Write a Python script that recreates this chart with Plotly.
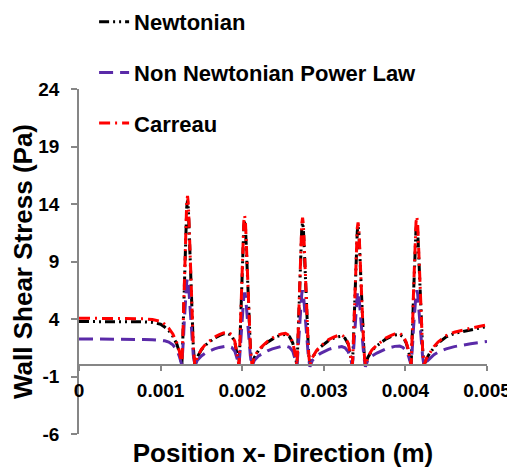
import plotly.graph_objects as go

# ---- data ----
position_m = [
    0, 0.0002, 0.0004, 0.0006, 0.0008, 0.0009, 0.001, 0.00105, 0.0011, 0.00115, 0.0012, 0.00123, 0.00126,
    0.00127, 0.00128, 0.00129, 0.0013, 0.00131, 0.00132, 0.00133, 0.00134, 0.00135, 0.00136, 0.00137, 0.00138, 0.00139, 0.0014, 0.00141, 0.00142,
    0.00145, 0.0015, 0.00155, 0.00161, 0.00166, 0.00172, 0.00177, 0.00182, 0.00187, 0.00191, 0.00193, 0.00196,
    0.00197, 0.00198, 0.00199, 0.002, 0.00201, 0.00202, 0.00203, 0.00204, 0.00205, 0.00206, 0.00207, 0.00208, 0.00209, 0.0021, 0.00211, 0.00212,
    0.00215, 0.0022, 0.00226, 0.00231, 0.00237, 0.00242, 0.00248, 0.00253, 0.00258, 0.00262, 0.00264, 0.00267,
    0.00268, 0.00269, 0.0027, 0.00271, 0.00272, 0.00273, 0.00274, 0.00275, 0.00276, 0.00277, 0.00278, 0.00279, 0.0028, 0.00281, 0.00282, 0.00283,
    0.00286, 0.00291, 0.00296, 0.00301, 0.00306, 0.00312, 0.00317, 0.00322, 0.00326, 0.0033, 0.00332, 0.00335,
    0.00336, 0.00337, 0.00338, 0.00339, 0.0034, 0.00341, 0.00342, 0.00343, 0.00344, 0.00345, 0.00346, 0.00347, 0.00348, 0.00349, 0.0035, 0.00351,
    0.00354, 0.00359, 0.00365, 0.00371, 0.00376, 0.00382, 0.00387, 0.00393, 0.00397, 0.00401, 0.00404, 0.00407,
    0.00408, 0.00409, 0.0041, 0.00411, 0.00412, 0.00413, 0.00414, 0.00415, 0.00416, 0.00417, 0.00418, 0.00419, 0.0042, 0.00421, 0.00422, 0.00423,
    0.00426, 0.0043, 0.00435, 0.0044, 0.0045, 0.0046, 0.0047, 0.0048, 0.0049, 0.005,
]

newtonian = [
    3.78, 3.78, 3.77, 3.77, 3.75, 3.7, 3.55, 3.3, 3.0, 2.5, 1.8, 1.1, 0.0,
    1.7, 4.3, 7.2, 9.7, 12.0, 13.7, 14.3, 13.6, 11.7, 9.4, 7.2, 5.0, 3.1, 1.7, 0.7, 0.0,
    0.69, 1.32, 1.73, 2.06, 2.34, 2.56, 2.7, 2.75, 2.56, 1.98, 1.24, 0.0,
    1.5, 3.8, 6.3, 8.6, 10.6, 12.1, 12.6, 12.0, 10.3, 8.3, 6.3, 4.4, 2.8, 1.5, 0.6, 0.0,
    0.66, 1.27, 1.67, 1.99, 2.25, 2.46, 2.6, 2.65, 2.46, 1.91, 1.19, 0.0,
    1.5, 3.7, 6.2, 8.4, 10.4, 11.9, 12.4, 11.8, 10.2, 8.2, 6.2, 4.3, 2.7, 1.5, 0.6, 0.0,
    0.63, 1.2, 1.58, 1.88, 2.13, 2.33, 2.45, 2.5, 2.33, 1.8, 1.13, 0.0,
    1.5, 3.6, 6.1, 8.2, 10.2, 11.6, 12.1, 11.5, 9.9, 8.0, 6.1, 4.2, 2.7, 1.5, 0.6, 0.0,
    0.66, 1.27, 1.67, 1.99, 2.25, 2.46, 2.6, 2.65, 2.46, 1.91, 1.19, 0.0,
    1.5, 3.7, 6.2, 8.4, 10.3, 11.8, 12.3, 11.7, 10.1, 8.1, 6.2, 4.3, 2.7, 1.5, 0.6, 0.0,
    0.55, 1.05, 1.5, 1.9, 2.45, 2.75, 2.9, 3.05, 3.2, 3.35,
]

power_law = [
    2.27, 2.27, 2.26, 2.25, 2.22, 2.2, 2.15, 2.1, 2.0, 1.75, 1.3, 0.75, 0.0,
    0.9, 2.3, 3.8, 5.1, 6.3, 7.2, 7.5, 7.1, 6.2, 5.0, 3.8, 2.6, 1.7, 0.9, 0.4, -0.1,
    0.41, 0.79, 1.04, 1.24, 1.4, 1.53, 1.62, 1.65, 1.53, 1.19, 0.74, 0.0,
    0.8, 1.9, 3.2, 4.3, 5.3, 6.0, 6.3, 6.0, 5.2, 4.2, 3.2, 2.2, 1.4, 0.8, 0.3, -0.1,
    0.41, 0.79, 1.04, 1.24, 1.4, 1.53, 1.62, 1.65, 1.53, 1.19, 0.74, 0.0,
    0.8, 2.0, 3.3, 4.4, 5.5, 6.2, 6.5, 6.2, 5.3, 4.3, 3.3, 2.3, 1.4, 0.8, 0.3, -0.15,
    0.4, 0.77, 1.01, 1.2, 1.36, 1.49, 1.57, 1.6, 1.49, 1.15, 0.72, 0.0,
    0.8, 1.9, 3.2, 4.4, 5.4, 6.1, 6.4, 6.1, 5.2, 4.2, 3.2, 2.2, 1.4, 0.8, 0.3, -0.15,
    0.41, 0.79, 1.04, 1.24, 1.4, 1.53, 1.62, 1.65, 1.53, 1.19, 0.74, 0.0,
    0.8, 2.0, 3.3, 4.4, 5.5, 6.2, 6.5, 6.2, 5.3, 4.3, 3.3, 2.3, 1.4, 0.8, 0.3, -0.15,
    0.3, 0.6, 0.9, 1.1, 1.4, 1.6, 1.75, 1.85, 1.95, 2.05,
]

carreau = [
    4.07, 4.07, 4.06, 4.05, 4.02, 3.95, 3.8, 3.55, 3.2, 2.7, 1.9, 1.2, 0.0,
    1.8, 4.4, 7.4, 10.0, 12.3, 14.1, 14.7, 14.0, 12.1, 9.7, 7.4, 5.1, 3.2, 1.8, 0.7, 0.0,
    0.7, 1.37, 1.8, 2.14, 2.42, 2.65, 2.79, 2.85, 2.65, 2.05, 1.28, 0.0,
    1.6, 3.9, 6.5, 8.8, 10.9, 12.5, 13.0, 12.4, 10.7, 8.6, 6.5, 4.6, 2.9, 1.6, 0.7, 0.0,
    0.69, 1.32, 1.73, 2.06, 2.34, 2.56, 2.7, 2.75, 2.56, 1.98, 1.24, 0.0,
    1.5, 3.8, 6.4, 8.7, 10.8, 12.3, 12.8, 12.2, 10.5, 8.4, 6.4, 4.5, 2.8, 1.5, 0.6, 0.0,
    0.65, 1.25, 1.64, 1.95, 2.21, 2.42, 2.55, 2.6, 2.42, 1.87, 1.17, 0.0,
    1.5, 3.7, 6.2, 8.4, 10.4, 11.9, 12.4, 11.8, 10.2, 8.2, 6.2, 4.3, 2.7, 1.5, 0.6, 0.0,
    0.69, 1.32, 1.73, 2.06, 2.34, 2.56, 2.7, 2.75, 2.56, 1.98, 1.24, 0.0,
    1.5, 3.9, 6.5, 8.8, 10.8, 12.4, 12.9, 12.3, 10.6, 8.5, 6.5, 4.5, 2.8, 1.5, 0.6, 0.0,
    0.6, 1.1, 1.6, 2.0, 2.55, 2.85, 3.05, 3.2, 3.35, 3.5,
]

series_names = ["Newtonian", "Non Newtonian Power Law", "Carreau"]
x_tick_vals = [0, 0.001, 0.002, 0.003, 0.004, 0.005]
x_tick_text = ["0", "0.001", "0.002", "0.003", "0.004", "0.005"]
y_tick_vals = [-6, -1, 4, 9, 14, 19, 24]
y_tick_text = ["-6", "-1", "4", "9", "14", "19", "24"]

FONT = "Arial, 'Liberation Sans', sans-serif"
AXIS_GRAY = "#868686"

fig = go.Figure()
fig.add_trace(go.Scatter(
    x=position_m, y=newtonian, name=series_names[0], mode="lines", legendgroup="a",
    line=dict(color="#000000", width=3, dash="10px,4px,2px,4px,2px,4px"),
))
fig.add_trace(go.Scatter(
    x=position_m, y=power_law, name=series_names[1], mode="lines", legendgroup="b",
    line=dict(color="#5A2AA8", width=3, dash="14px,7px"),
))
fig.add_trace(go.Scatter(
    x=position_m, y=carreau, name=series_names[2], mode="lines", legendgroup="c",
    line=dict(color="#FF0000", width=3, dash="11px,5px,2px,5px"),
))

# page has an 8px body margin, so the figure is 8px smaller than the window
fig.update_layout(
    width=507, height=467,
    margin=dict(l=71, r=28, t=81, b=41, autoexpand=False),
    paper_bgcolor="white", plot_bgcolor="white",
    font=dict(family=FONT, color="black", size=19, weight="bold"),
    showlegend=True,
    legend=dict(
        x=0.037, y=1.255, xanchor="left", yanchor="top",
        font=dict(family=FONT, size=22, color="black", weight="bold"),
        traceorder="grouped", tracegroupgap=19,
        bgcolor="rgba(0,0,0,0)",
    ),
    xaxis=dict(
        range=[0, 0.005], anchor="free", position=0.2, side="bottom",
        showline=True, linecolor=AXIS_GRAY, linewidth=1.5,
        ticks="outside", ticklen=5, tickcolor=AXIS_GRAY, tickwidth=1.5,
        tickmode="array", tickvals=x_tick_vals, ticktext=x_tick_text,
        ticklabelstandoff=3,
        tickfont=dict(family=FONT, size=19, color="black", weight="bold"),
        showgrid=False, zeroline=False,
        title=dict(text="Position x- Direction (m)", standoff=43,
                   font=dict(family=FONT, size=26, color="black", weight="bold")),
    ),
    yaxis=dict(
        range=[-6, 24], tickmode="array", tickvals=y_tick_vals, ticktext=y_tick_text,
        showline=True, linecolor=AXIS_GRAY, linewidth=1.5,
        ticks="outside", ticklen=6, tickcolor=AXIS_GRAY, tickwidth=1.5,
        ticklabelstandoff=8,
        tickfont=dict(family=FONT, size=19, color="black", weight="bold"),
        showgrid=False, zeroline=False,
        title=dict(text="Wall Shear Stress (Pa)", standoff=4,
                   font=dict(family=FONT, size=26, color="black", weight="bold")),
    ),
)

fig.write_html("out.html")
